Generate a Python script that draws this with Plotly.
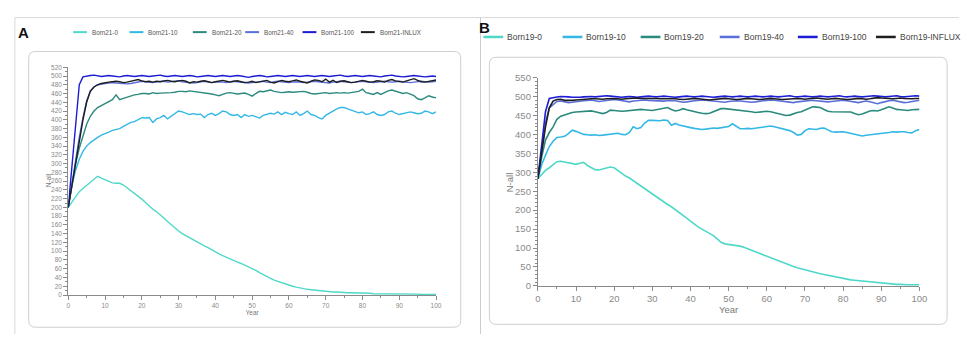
import plotly.graph_objects as go

W, H = 967, 339

years = list(range(0, 101))

# ---------------- Panel A (Born21) ----------------
a_names = ["Born21-0", "Born21-10", "Born21-20", "Born21-40", "Born21-100", "Born21-INLUX"]

a_born0 = [200, 212, 224, 236, 243, 250, 257, 264, 271, 267,
           263, 259, 256, 255, 255, 251, 245, 239, 232, 226,
           219, 211, 203, 196, 190, 184, 176, 168, 160, 152,
           146, 140, 135, 130, 126, 121, 116, 112, 108, 103,
           98, 94, 90, 86, 82, 78, 75, 72, 68, 64,
           61, 56, 51, 46, 42, 38, 34, 31, 28, 25,
           22, 20, 18, 16, 14, 13, 12, 11, 10, 9,
           8, 8, 7, 7, 6, 6, 5, 5, 5, 4,
           4, 4, 4, 3, 3, 3, 3, 3, 2, 2,
           2, 2, 2, 2, 2, 2, 1, 1, 1, 1, 1]

a_born10 = [200, 250, 285, 310, 328, 340, 348, 355, 360, 365,
            368, 372, 376, 378, 380, 385, 390, 394, 396, 400,
            405, 404, 405, 394, 402, 405, 410, 402, 408, 412,
            420, 418, 415, 412, 414, 412, 413, 405, 412, 415,
            410, 414, 420, 418, 412, 410, 412, 405, 412, 408,
            410, 407, 404, 410, 412, 415, 413, 418, 412, 417,
            414, 412, 418, 410, 414, 420, 412, 410, 405, 402,
            410, 415, 420, 425, 428, 428, 425, 422, 418, 416,
            418, 412, 414, 418, 412, 410, 412, 418, 420, 415,
            412, 414, 415, 418, 416, 414, 415, 420, 418, 414, 418]

a_born20 = [200, 255, 300, 335, 365, 390, 408, 420, 428, 433,
            438, 441, 446, 457, 446, 449, 452, 455, 457, 458,
            460, 460, 459, 462, 460, 461, 461, 462, 462, 463,
            465, 465, 464, 466, 465, 464, 462, 461, 460, 459,
            457, 455, 458, 461, 462, 460, 459, 460, 461, 458,
            454, 460, 465, 464, 466, 468, 465, 463, 462, 463,
            464, 463, 464, 465, 465, 463, 460, 459, 460, 461,
            462, 460, 461, 462, 461, 462, 461, 462, 463, 465,
            470, 462, 460, 458, 462, 458, 462, 466, 468, 465,
            462, 460, 462, 458, 455, 448, 446, 450, 455, 452, 450]

a_born40 = [200, 255, 305, 360, 405, 443, 466, 475, 480, 482,
            483, 484, 485, 484, 483, 482, 482, 483, 485, 487,
            488, 487, 486, 485, 487, 488, 488, 486, 487, 488,
            489, 487, 486, 485, 484, 485, 486, 488, 487, 485,
            486, 487, 486, 485, 487, 488, 487, 486, 485, 484,
            485, 486, 487, 488, 486, 485, 487, 488, 487, 486,
            485, 486, 487, 486, 485, 486, 487, 488, 487, 486,
            485, 484, 486, 487, 488, 487, 486, 485, 486, 487,
            488, 487, 486, 485, 486, 487, 488, 487, 486, 487,
            488, 487, 486, 485, 486, 487, 488, 487, 486, 487, 488]

a_born100 = [200, 300, 400, 480, 498, 500, 501, 502, 500, 499,
             500, 501, 500, 499, 498, 500, 501, 500, 499, 500,
             501, 500, 499, 500, 501, 502, 500, 499, 500, 501,
             500, 499, 500, 501, 500, 498, 499, 500, 501, 500,
             499, 500, 501, 500, 499, 500, 501, 500, 499, 497,
             499, 500, 501, 500, 498, 499, 500, 501, 500, 499,
             500, 501, 500, 499, 500, 501, 500, 499, 500, 501,
             500, 499, 500, 501, 502, 500, 499, 500, 501, 500,
             499, 500, 501, 500, 499, 498, 500, 501, 502, 500,
             499, 498, 499, 500, 501, 500, 499, 498, 499, 500, 499]

a_influx = [200, 250, 300, 355, 400, 440, 465, 475, 480, 483,
            485, 486, 487, 488, 487, 485, 486, 488, 490, 492,
            489, 487, 488, 486, 488, 487, 489, 490, 488, 487,
            489, 490, 488, 484, 487, 486, 488, 489, 487, 485,
            487, 488, 490, 488, 486, 488, 489, 487, 485, 486,
            488, 485, 487, 489, 490, 486, 484, 487, 490, 488,
            487, 489, 491, 488, 486, 484, 488, 491, 490, 487,
            493, 486, 490, 485, 488, 489, 487, 485, 486, 488,
            490, 488, 486, 487, 489, 488, 486, 490, 492, 489,
            487, 486, 489, 492, 494, 490, 487, 486, 488, 490, 491]

# ---------------- Panel B (Born19) ----------------
b_names = ["Born19-0", "Born19-10", "Born19-20", "Born19-40", "Born19-100", "Born19-INFLUX"]

b_born0 = [283, 295, 305, 312, 320, 328, 329, 327, 326, 322,
           321, 324, 326, 318, 312, 307, 306, 309, 311, 314,
           312, 304, 296, 290, 285, 278, 270, 264, 257, 249,
           241, 234, 228, 222, 215, 209, 202, 194, 186, 179,
           171, 163, 156, 150, 145, 140, 133, 124, 115, 111,
           110, 109, 107, 105, 102, 99, 94, 90, 86, 81,
           77, 73, 69, 65, 61, 57, 54, 51, 48, 45,
           42, 39, 36, 34, 32, 30, 28, 25, 23, 21,
           19, 17, 16, 15, 14, 13, 11, 10, 9, 8,
           7, 6, 5, 5, 4, 4, 3, 3, 3, 3, 3]

b_born10 = [283, 320, 345, 368, 382, 392, 393, 395, 402, 411,
            408, 404, 400, 399, 398, 399, 397, 398, 399, 400,
            402, 403, 400, 399, 405, 420, 415, 418, 430, 437,
            437, 436, 436, 438, 437, 424, 429, 425, 422, 420,
            418, 416, 414, 413, 414, 415, 417, 416, 418, 420,
            421, 428, 422, 415, 415, 416, 415, 416, 418, 420,
            421, 422, 420, 418, 415, 412, 410, 405, 398, 400,
            410, 415, 414, 413, 416, 417, 412, 407, 406, 407,
            407, 405, 403, 400, 397, 396, 398, 399, 399, 400,
            401, 403, 405, 407, 406, 407, 407, 405, 404, 410, 413]

b_born20 = [283, 340, 385, 405, 420, 440, 448, 452, 456, 458,
            459, 460, 461, 462, 462, 460, 458, 455, 458, 464,
            463, 462, 461, 462, 463, 464, 465, 466, 465, 464,
            463, 465, 467, 468, 471, 466, 462, 464, 468, 465,
            462, 460, 458, 456, 455, 456, 460, 466, 468, 468,
            467, 466, 465, 464, 463, 462, 460, 458, 459, 460,
            461, 460, 458, 455, 452, 450, 451, 455, 458, 460,
            465, 470, 473, 472, 471, 466, 461, 460, 460, 460,
            460, 460, 459, 455, 452, 454, 458, 462, 463, 462,
            465, 470, 473, 470, 466, 465, 464, 463, 465, 466, 466]

b_born40 = [283, 360, 430, 470, 479, 487, 488, 486, 484, 485,
            487, 488, 489, 490, 491, 489, 487, 488, 489, 490,
            492, 491, 489, 487, 486, 488, 489, 490, 491, 490,
            489, 488, 487, 488, 489, 490, 489, 487, 485, 486,
            488, 489, 490, 491, 490, 489, 488, 487, 486, 485,
            487, 488, 489, 488, 487, 486, 485, 486, 488, 489,
            490, 491, 490, 489, 488, 487, 485, 484, 486, 487,
            488, 489, 490, 489, 488, 487, 486, 487, 488, 489,
            490, 489, 487, 485, 484, 486, 488, 486, 483, 481,
            484, 487, 489, 490, 488, 486, 484, 485, 487, 489, 490]

b_born100 = [283, 380, 460, 495, 498, 499, 500, 500, 499, 498,
             497, 498, 499, 500, 500, 499, 500, 501, 502, 501,
             500, 499, 498, 499, 500, 499, 498, 499, 500, 501,
             500, 499, 500, 501, 500, 499, 498, 499, 500, 501,
             500, 499, 500, 501, 500, 499, 498, 499, 500, 501,
             500, 499, 500, 501, 500, 499, 500, 501, 500, 499,
             500, 501, 500, 499, 500, 501, 502, 500, 499, 500,
             501, 500, 499, 500, 501, 500, 499, 500, 501, 502,
             500, 499, 500, 501, 500, 499, 500, 501, 502, 501,
             500, 499, 500, 501, 502, 500, 499, 500, 501, 502, 501]

b_influx = [283, 350, 420, 470, 488, 492, 493, 490, 489, 490,
            491, 492, 493, 493, 494, 494, 493, 493, 494, 495,
            495, 494, 493, 494, 495, 496, 496, 495, 495, 496,
            496, 495, 494, 494, 495, 495, 494, 493, 492, 493,
            494, 495, 494, 493, 492, 491, 492, 493, 494, 495,
            494, 493, 492, 493, 494, 495, 494, 493, 492, 493,
            494, 495, 494, 493, 492, 493, 494, 495, 495, 494,
            493, 494, 495, 496, 495, 494, 493, 494, 495, 494,
            493, 492, 493, 494, 495, 494, 493, 494, 496, 497,
            496, 495, 494, 494, 495, 496, 495, 494, 494, 495, 495]

a_series = [a_born0, a_born10, a_born20, a_born40, a_born100, a_influx]
b_series = [b_born0, b_born10, b_born20, b_born40, b_born100, b_influx]

colors = ["#4fd8c8", "#33b8e6", "#2b8a7e", "#5a6ed8", "#1c1cd4", "#1e1e1e"]

a_xticks = list(range(0, 101, 10))
a_yticks = list(range(0, 521, 20))
b_xticks = list(range(0, 101, 10))
b_yticks = list(range(0, 551, 50))


def px(x):
    return x / W


def py(y):
    return 1 - y / H


fig = go.Figure()
for name, vals, col in zip(a_names, a_series, colors):
    fig.add_trace(go.Scatter(x=years[:len(vals)], y=vals, mode="lines", name=name,
                             line=dict(color=col, width=1.4), xaxis="x", yaxis="y",
                             showlegend=False))
for name, vals, col in zip(b_names, b_series, colors):
    fig.add_trace(go.Scatter(x=years[:len(vals)], y=vals, mode="lines", name=name,
                             line=dict(color=col, width=1.6), xaxis="x2", yaxis="y2",
                             showlegend=False))

FONT = "Liberation Sans, Arial, sans-serif"
AXC = "#8a8a8a"
TXC = "#8a8a8a"


def axis(domain, anchor, rng, tickvals, minor_dtick, fsize, title, standoff):
    return dict(domain=domain, anchor=anchor, range=rng, tickmode="array",
                tickvals=tickvals, ticks="outside", ticklen=4, tickwidth=1,
                tickcolor=AXC, showline=True, linecolor=AXC, linewidth=1,
                showgrid=False, zeroline=False, fixedrange=True,
                tickfont=dict(size=fsize, color=TXC, family=FONT),
                minor=dict(dtick=minor_dtick, tick0=0, ticks="outside", ticklen=2,
                           tickcolor=AXC, showgrid=False),
                title=dict(text=title, font=dict(size=fsize, color="#777", family=FONT),
                           standoff=standoff))


layout = dict(
    width=W, height=H, margin=dict(l=0, r=0, t=0, b=0),
    paper_bgcolor="white", plot_bgcolor="rgba(0,0,0,0)",
    font=dict(family=FONT),
    xaxis=axis([px(66), px(438)], "y", [0, 100], a_xticks, 5, 6.5, "Year", 1),
    yaxis=axis([py(298.7), py(63.3)], "x", [0, 520], a_yticks, 10, 6.5, "", 1),
    xaxis2=axis([px(541), px(927)], "y2", [0, 100], b_xticks, 5, 9.5, "Year", 1),
    yaxis2=axis([py(289.3), py(74)], "x2", [0, 550], b_yticks, 10, 9.5, "", 0),
)
fig.update_layout(**layout)


def rrect(x0, y0, x1, y1, r):
    def P(x, y):
        return f"{px(x):.5f},{py(y):.5f}"
    return (f"M{P(x0 + r, y0)} L{P(x1 - r, y0)} Q{P(x1, y0)} {P(x1, y0 + r)} "
            f"L{P(x1, y1 - r)} Q{P(x1, y1)} {P(x1 - r, y1)} "
            f"L{P(x0 + r, y1)} Q{P(x0, y1)} {P(x0, y1 - r)} "
            f"L{P(x0, y0 + r)} Q{P(x0, y0)} {P(x0 + r, y0)} Z")


shapes = []
frame = dict(color="#cfcfcf", width=1)
shapes.append(dict(type="path", xref="paper", yref="paper",
                   path=rrect(26, 47, 463, 332, 7), line=frame))
shapes.append(dict(type="path", xref="paper", yref="paper",
                   path=rrect(492, 53, 955, 329, 7), line=frame))
# outer screenshot frames
shapes.append(dict(type="line", xref="paper", yref="paper", x0=px(12), x1=px(967),
                   y0=py(12), y1=py(12), line=dict(color="#d8d8d8", width=1)))
shapes.append(dict(type="line", xref="paper", yref="paper", x0=px(12), x1=px(12),
                   y0=py(12), y1=py(339), line=dict(color="#d8d8d8", width=1)))
shapes.append(dict(type="line", xref="paper", yref="paper", x0=px(483), x1=px(483),
                   y0=py(12), y1=py(339), line=dict(color="#cccccc", width=1)))

annotations = []
# panel letters
annotations.append(dict(text="<b>A</b>", x=px(21), y=py(27), xref="paper", yref="paper",
                        xanchor="center", yanchor="middle", showarrow=False,
                        font=dict(size=15, color="#111", family=FONT)))
annotations.append(dict(text="<b>B</b>", x=px(487), y=py(22), xref="paper", yref="paper",
                        xanchor="center", yanchor="middle", showarrow=False,
                        font=dict(size=15, color="#111", family=FONT)))
# y-axis titles
annotations.append(dict(text="N-all", x=px(45.5), y=py(180), xref="paper", yref="paper",
                        xanchor="center", yanchor="middle", textangle=-90, showarrow=False,
                        font=dict(size=6.5, color="#777", family=FONT)))
annotations.append(dict(text="N-all", x=px(512), y=py(182), xref="paper", yref="paper",
                        xanchor="center", yanchor="middle", textangle=-90, showarrow=False,
                        font=dict(size=9.5, color="#777", family=FONT)))

# manual legends
a_leg_x = [71, 128, 192, 245, 303, 362]
for name, col, x0 in zip(a_names, colors, a_leg_x):
    shapes.append(dict(type="line", xref="paper", yref="paper", x0=px(x0), x1=px(x0 + 14),
                       y0=py(27), y1=py(27), line=dict(color=col, width=2)))
    annotations.append(dict(text=name, x=px(x0 + 17), y=py(27), xref="paper", yref="paper",
                            xanchor="left", yanchor="middle", showarrow=False,
                            font=dict(size=6.3, color="#555", family=FONT)))

b_leg_x = [486, 566, 645, 725, 804, 883]
for name, col, x0 in zip(b_names, colors, b_leg_x):
    shapes.append(dict(type="line", xref="paper", yref="paper", x0=px(x0), x1=px(x0 + 20),
                       y0=py(32), y1=py(32), line=dict(color=col, width=2.5)))
    annotations.append(dict(text=name, x=px(x0 + 22), y=py(32), xref="paper", yref="paper",
                            xanchor="left", yanchor="middle", showarrow=False,
                            font=dict(size=8.5, color="#444", family=FONT)))

fig.update_layout(shapes=shapes, annotations=annotations)
fig.write_html("out.html", config={"displayModeBar": False},
               post_script="document.body.style.margin='0px';")
